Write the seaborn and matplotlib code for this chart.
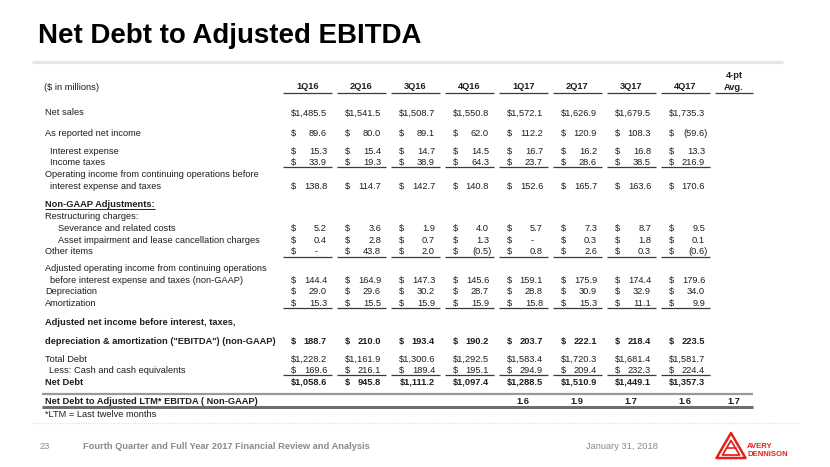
import matplotlib
matplotlib.use("Agg")
import matplotlib.pyplot as plt
import seaborn as sns
from matplotlib.patches import Polygon

# ---------------- data ----------------
quarters = ["1Q16", "2Q16", "3Q16", "4Q16", "1Q17", "2Q17", "3Q17", "4Q17"]
net_sales = [1485.5, 1541.5, 1508.7, 1550.8, 1572.1, 1626.9, 1679.5, 1735.3]
net_income = [89.6, 80.0, 89.1, 62.0, 112.2, 120.9, 108.3, -59.6]
interest_expense = [15.3, 15.4, 14.7, 14.5, 16.7, 16.2, 16.8, 13.3]
income_taxes = [33.9, 19.3, 38.9, 64.3, 23.7, 28.6, 38.5, 216.9]
operating_income = [138.8, 114.7, 142.7, 140.8, 152.6, 165.7, 163.6, 170.6]
severance = [5.2, 3.6, 1.9, 4.0, 5.7, 7.3, 8.7, 9.5]
asset_impairment = [0.4, 2.8, 0.7, 1.3, 0.0, 0.3, 1.8, 0.1]
other_items = [0.0, 43.8, 2.0, -0.5, 0.8, 2.6, 0.3, -0.6]
adj_operating_income = [144.4, 164.9, 147.3, 145.6, 159.1, 175.9, 174.4, 179.6]
depreciation = [29.0, 29.6, 30.2, 28.7, 28.8, 30.9, 32.9, 34.0]
amortization = [15.3, 15.5, 15.9, 15.9, 15.8, 15.3, 11.1, 9.9]
ebitda = [188.7, 210.0, 193.4, 190.2, 203.7, 222.1, 218.4, 223.5]
total_debt = [1228.2, 1161.9, 1300.6, 1292.5, 1583.4, 1720.3, 1681.4, 1581.7]
cash = [169.6, 216.1, 189.4, 195.1, 294.9, 209.4, 232.3, 224.4]
net_debt = [1058.6, 945.8, 1111.2, 1097.4, 1288.5, 1510.9, 1449.1, 1357.3]
ltm_ratio = [None, None, None, None, 1.6, 1.9, 1.7, 1.6]
ltm_avg = 1.7

title = "Net Debt to Adjusted EBITDA"
footer_text = "Fourth Quarter and Full Year 2017 Financial Review and Analysis"
footer_date = "January 31, 2018"
page_no = "23"

# ---------------- style ----------------
sns.set_theme(style="white")
plt.rcParams["font.family"] = ["Liberation Sans", "DejaVu Sans"]

TXT = "#1e1e1e"
FS = 6.7
HALF = 3.35     # half cap height in px, to place baselines
STEP = 54.0
L0 = 290.5      # left edge of "$" in first column
R0 = 327.0      # right edge of numbers in first column
UL0, UR0 = 283.0, 331.5
C0 = (UL0 + UR0) / 2
AVG_C = 734.0

fig = plt.figure(figsize=(8.3, 4.67), dpi=100)
ax = fig.add_axes([0, 0, 1, 1])
ax.set_xlim(0, 830)
ax.set_ylim(467, 0)
ax.axis("off")


def txt(x, y, s, ha="left", bold=False, color=TXT, fs=FS):
    return ax.text(x, y + HALF * fs / FS, s, ha=ha, va="baseline",
                   fontsize=fs, fontweight="bold" if bold else "normal",
                   color=color)


def money_row(y, vals, bold=False):
    for i, v in enumerate(vals):
        if v is None:
            continue
        left = L0 + i * STEP
        right = R0 + i * STEP
        if abs(v) >= 1000:
            txt(right, y, f"${v:,.1f}", ha="right", bold=bold)
            continue
        txt(left, y, "$", bold=bold)
        if v == 0:
            s, r = "-", right - 9
        elif v < 0:
            s, r = f"({abs(v):.1f})", right + 3
        else:
            s, r = f"{v:.1f}", right
        txt(r, y, s, ha="right", bold=bold)


def col_rules(y, color="#3a3a3a", lw=0.9):
    for i in range(len(quarters)):
        ax.plot([UL0 + i * STEP, UR0 + i * STEP], [y, y], color=color,
                lw=lw, solid_capstyle="butt")


# ---------------- title ----------------
ax.text(38, 36, title, ha="left", va="center", fontsize=19.9,
        fontweight="bold", color="#000000")
ax.plot([32, 783], [61.7, 61.7], color="#e6e6e6", lw=2.2,
        solid_capstyle="butt")

# ---------------- header ----------------
txt(44, 87, "($ in millions)")
for i, q in enumerate(quarters):
    txt(C0 + i * STEP, 86, q, ha="center", bold=True)
txt(AVG_C, 75, "4-pt", ha="center", bold=True)
txt(AVG_C, 87, "Avg.", ha="center", bold=True)
col_rules(92.7)
ax.plot([715, 753], [92.7, 92.7], color="#3a3a3a", lw=0.9,
        solid_capstyle="butt")

# ---------------- body ----------------
txt(45, 112, "Net sales")
money_row(112, net_sales)

txt(45, 132.7, "As reported net income")
money_row(132.7, net_income)

txt(49.5, 150.5, "Interest expense")
money_row(150.5, interest_expense)
txt(49.5, 161.5, "Income taxes")
money_row(161.5, income_taxes)
col_rules(166.8)

txt(45, 173.5, "Operating income from continuing operations before")
txt(50, 185.5, "interest expense and taxes")
money_row(185.5, operating_income)

ng = txt(45, 204, "Non-GAAP Adjustments:", bold=True)
txt(45, 215.5, "Restructuring charges:")
txt(58, 228, "Severance and related costs")
money_row(228, severance)
txt(58, 239.5, "Asset impairment and lease cancellation charges")
money_row(239.5, asset_impairment)
txt(45, 251, "Other items")
money_row(251, other_items)
col_rules(257)

txt(45, 268, "Adjusted operating income from continuing operations")
txt(50, 279.5, "before interest expense and taxes (non-GAAP)")
money_row(279.5, adj_operating_income)
txt(45, 291, "Depreciation")
money_row(291, depreciation)
txt(45, 302.5, "Amortization")
money_row(302.5, amortization)
col_rules(307.8)

txt(45, 322, "Adjusted net income before interest, taxes,", bold=True)
txt(45, 340.5, 'depreciation & amortization ("EBITDA") (non-GAAP)', bold=True)
money_row(340.5, ebitda, bold=True)

txt(45, 358.5, "Total Debt")
money_row(358.5, total_debt)
txt(49, 370, "Less: Cash and cash equivalents")
money_row(370, cash)
col_rules(375.3)
txt(45, 381.5, "Net Debt", bold=True)
money_row(381.5, net_debt, bold=True)

ax.plot([42, 753], [393.8, 393.8], color="#9a9a9a", lw=1.6,
        solid_capstyle="butt")
txt(45, 400.3, "Net Debt to Adjusted LTM* EBITDA ( Non-GAAP)", bold=True)
for i, v in enumerate(ltm_ratio):
    if v is None:
        continue
    txt(C0 + i * STEP, 400.3, f"{v:.1f}", ha="center", bold=True)
txt(AVG_C, 400.3, f"{ltm_avg:.1f}", ha="center", bold=True)
ax.plot([42, 753], [406.7, 406.7], color="#6e6e6e", lw=2.2,
        solid_capstyle="butt")
txt(45, 414, "*LTM = Last twelve months")

# underline for "Non-GAAP Adjustments:"
fig.canvas.draw()
r = fig.canvas.get_renderer()
bb = ng.get_window_extent(r)
inv = ax.transData.inverted()
(x0, _), (x1, _) = inv.transform([[bb.x0, bb.y0], [bb.x1, bb.y0]])
ax.plot([x0, x1], [209, 209], color=TXT, lw=0.7, solid_capstyle="butt")

# ---------------- footer ----------------
ax.plot([32, 798], [423, 423], color="#e3e3e3", lw=0.8, ls=(0, (1, 1)))
txt(40, 446, page_no, color="#8a8a8a")
txt(83, 446, footer_text, bold=True, color="#8a8a8a")
txt(586, 446, footer_date, color="#8a8a8a")

RED = "#e2231a"
for pts, lw in [([(731, 433), (745.5, 458), (716.5, 458)], 1.8),
                ([(731, 440.5), (739.5, 455), (722.5, 455)], 1.3)]:
    ax.add_patch(Polygon(pts, closed=True, fill=False, ec=RED, lw=lw,
                         joinstyle="round"))
ax.plot([727, 735.5], [448, 448], color=RED, lw=1.2)
txt(747, 445.5, "AVERY", bold=True, color=RED, fs=5.6)
txt(747, 453.5, "DENNISON", bold=True, color=RED, fs=5.6)

fig.savefig("out.png", dpi=100)
